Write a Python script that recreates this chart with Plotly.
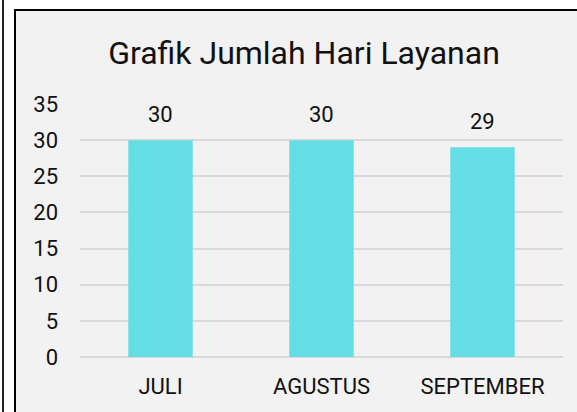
import plotly.graph_objects as go

categories = ["JULI", "AGUSTUS", "SEPTEMBER"]
values = [30, 30, 29]
y_ticks = [0, 5, 10, 15, 20, 25, 30, 35]
title_text = "Grafik Jumlah Hari Layanan"

W, H = 577, 412
L, R, T, B = 80, 14, 104, 55
pw, ph = W - L - R, H - T - B

def px(x):
    return (x - L) / pw

def py(y):
    return (H - B - y) / ph

fig = go.Figure()
fig.add_trace(go.Bar(
    x=categories, y=values, width=0.4,
    marker=dict(color="#64dde5", line=dict(width=0)),
    hoverinfo="x+y",
))

for c, v in zip(categories, values):
    fig.add_annotation(x=c, y=v, text=str(v), showarrow=False,
                       yanchor="bottom", yshift=11,
                       font=dict(family="Roboto", size=22, color="#111111"))

fig.update_layout(
    width=W, height=H,
    margin=dict(l=L, r=R, t=T, b=B),
    paper_bgcolor="white",
    plot_bgcolor="rgba(0,0,0,0)",
    showlegend=False,
    font=dict(family="Roboto", color="#111111"),
    title=dict(text=title_text, x=304 / W, xanchor="center",
               y=1 - 53 / H, yanchor="middle",
               font=dict(family="Roboto", size=32, color="#111111")),
    xaxis=dict(showgrid=False, showline=False, ticks="",
               ticklabelstandoff=14,
               tickfont=dict(size=22, family="Roboto", color="#111111")),
    yaxis=dict(range=[0, 35], tickvals=y_ticks, showgrid=True,
               gridcolor="#d9d9d9", gridwidth=1.5, zeroline=True,
               zerolinecolor="#d9d9d9", zerolinewidth=1.5,
               ticks="", ticklabelstandoff=21,
               tickfont=dict(size=22, family="Roboto", color="#111111")),
    shapes=[
        dict(type="rect", xref="paper", yref="paper",
             x0=px(15), x1=px(590), y0=py(430), y1=py(10),
             fillcolor="#f2f2f2", line=dict(color="black", width=2), layer="below"),
        dict(type="line", xref="paper", yref="paper",
             x0=px(3), x1=px(3), y0=py(-5), y1=py(430),
             line=dict(color="#222222", width=2), layer="below"),
    ],
)

fig.write_html("out.html", config={"displayModeBar": False},
               post_script="document.body.style.margin='0';document.body.style.overflow='hidden';")
